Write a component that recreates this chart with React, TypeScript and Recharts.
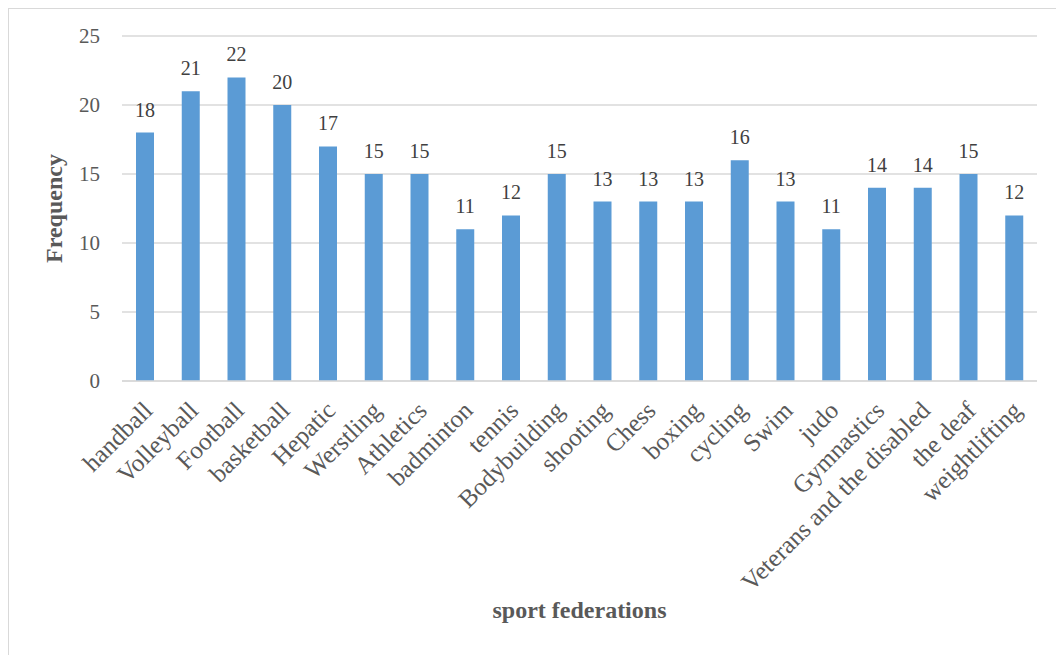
import React from 'react';
import { BarChart, Bar, XAxis, YAxis, CartesianGrid, LabelList, Label } from 'recharts';

const federations = [
  'handball', 'Volleyball', 'Football', 'basketball', 'Hepatic', 'Werstling', 'Athletics',
  'badminton', 'tennis', 'Bodybuilding', 'shooting', 'Chess', 'boxing', 'cycling', 'Swim',
  'judo', 'Gymnastics', 'Veterans and the disabled', 'the deaf', 'weightlifting',
];
const frequency = [18, 21, 22, 20, 17, 15, 15, 11, 12, 15, 13, 13, 13, 16, 13, 11, 14, 14, 15, 12];
const yTicks = [0, 5, 10, 15, 20, 25];

const data = federations.map((name, i) => ({ name, value: frequency[i] }));

const FONT = '"Liberation Serif", "Times New Roman", serif';
const TEXT = '#595959';
const GRID = '#d9d9d9';
const BAR = '#5b9bd5';

const CategoryTick = ({ x, y, payload }: any) => (
  <text
    x={x + 9}
    y={y + 31}
    transform={`rotate(-45, ${x + 9}, ${y + 31})`}
    textAnchor="end"
    fill={TEXT}
    fontSize={25}
    fontFamily={FONT}
  >
    {payload.value}
  </text>
);

export default function App() {
  return (
    <div
      style={{
        position: 'fixed',
        top: 8,
        left: 8,
        width: 1060,
        height: 660,
        borderTop: `1px solid ${GRID}`,
        borderLeft: `1px solid ${GRID}`,
        background: '#fff',
      }}
    >
      <BarChart
        width={1039}
        height={638}
        data={data}
        margin={{ top: 27, right: 11, left: 0, bottom: 26 }}
      >
        <CartesianGrid vertical={false} stroke={GRID} strokeWidth={1.3} />
        <XAxis
          dataKey="name"
          interval={0}
          height={240}
          tickSize={0}
          tickMargin={0}
          tickLine={false}
          axisLine={{ stroke: GRID, strokeWidth: 1.3 }}
          tick={<CategoryTick />}
        >
          <Label
            content={({ viewBox }: any) => (
              <text
                x={viewBox.x + viewBox.width / 2}
                y={viewBox.y + viewBox.height - 3}
                textAnchor="middle"
                fill={TEXT}
                fontSize={24}
                fontWeight="bold"
                fontFamily={FONT}
              >
                sport federations
              </text>
            )}
          />
        </XAxis>
        <YAxis
          width={113}
          domain={[0, 25]}
          ticks={yTicks}
          axisLine={false}
          tickLine={false}
          tickMargin={16}
          tick={{ fill: TEXT, fontSize: 21, fontFamily: FONT }}
        >
          <Label
            content={({ viewBox }: any) => {
              const cx = 45;
              const cy = viewBox.y + viewBox.height / 2;
              return (
                <text
                  x={cx}
                  y={cy}
                  transform={`rotate(-90, ${cx}, ${cy})`}
                  textAnchor="middle"
                  dominantBaseline="central"
                  fill={TEXT}
                  fontSize={24}
                  fontWeight="bold"
                  fontFamily={FONT}
                >
                  Frequency
                </text>
              );
            }}
          />
        </YAxis>
        <Bar dataKey="value" fill={BAR} barSize={18} isAnimationActive={false}>
          <LabelList
            dataKey="value"
            position="top"
            offset={16}
            fill="#404040"
            fontSize={20}
            fontFamily={FONT}
          />
        </Bar>
      </BarChart>
    </div>
  );
}
